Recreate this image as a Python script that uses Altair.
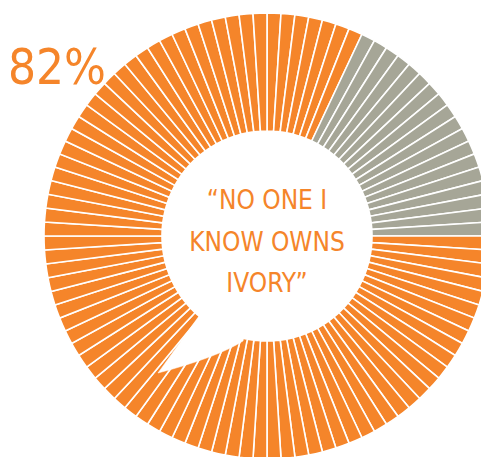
import altair as alt
import pandas as pd

# Data: 100 segments (1% each), 82 "own none" (orange), 18 other (gray)
segment_groups = ["yes"] * 7 + ["no"] * 18 + ["yes"] * 75
segment_values = [1] * 100
group_labels = ["yes", "no"]
group_colors = ["#F5852A", "#A6A697"]
big_label = ["82%"]
center_lines = ["\u201cNO ONE I", "KNOW OWNS", "IVORY\u201d"]

df = pd.DataFrame({
    "idx": list(range(len(segment_groups))),
    "group": segment_groups,
    "value": segment_values,
})

CX, CY = 267, 236
R_OUT, R_IN = 223, 105
FONT = "DejaVu Sans Condensed, Liberation Sans Narrow, Liberation Sans, sans-serif"

ring = alt.Chart(df).mark_arc(stroke="white", strokeWidth=1.6).encode(
    theta=alt.Theta("value:Q", stack=True),
    order=alt.Order("idx:Q"),
    color=alt.Color("group:N", scale=alt.Scale(domain=group_labels, range=group_colors), legend=None),
    radius=alt.value(R_OUT),
    radius2=alt.value(R_IN),
    x=alt.value(CX),
    y=alt.value(CY),
)

# speech-bubble tail (white shape, drawn around the centre, unit = 100 px)
tail_path = "M -0.68 0.80 L -1.09 1.37 Q -0.5 1.215 -0.24 1.05 L 0 0 Z"
tail = alt.Chart(pd.DataFrame({"k": [0]})).mark_point(
    shape=tail_path, filled=True, fill="white", stroke="white", strokeWidth=0.5, opacity=1
).encode(x=alt.value(CX), y=alt.value(CY), size=alt.value(40000))

center_df = pd.DataFrame({"line": center_lines, "row": [0, 1, 2]})
center_text = alt.Chart(center_df).mark_text(
    font=FONT, fontSize=26, color="#F5852A", baseline="alphabetic", align="center"
).encode(
    text="line:N",
    x=alt.value(CX),
    y=alt.Y("row:Q", axis=None, scale=alt.Scale(domain=[0, 2], range=[209, 292])),
)

big_df = pd.DataFrame({"t": big_label})
big_text = alt.Chart(big_df).mark_text(
    font=FONT, fontSize=49, color="#F5852A", baseline="alphabetic", align="left"
).encode(text="t:N", x=alt.value(8), y=alt.value(84))

chart = alt.layer(ring, tail, center_text, big_text).properties(
    width=481, height=457, padding=0, autosize=alt.AutoSizeParams(type="none")
).configure_view(stroke=None)

chart.save("out.html", embed_options={"renderer": "svg", "actions": False})
